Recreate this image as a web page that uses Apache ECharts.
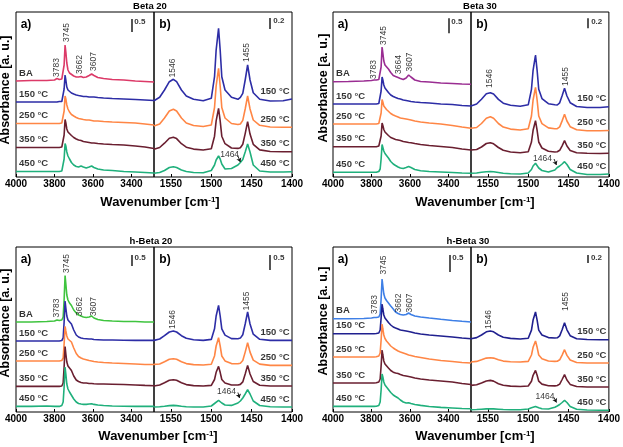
<!DOCTYPE html>
<html><head><meta charset="utf-8">
<script src="https://cdn.jsdelivr.net/npm/echarts@6/dist/echarts.min.js"></script>
<style>html,body{margin:0;padding:0;background:#fff}#c{width:623px;height:447px}</style>
</head><body><div id="c"></div>
<script>
// ---------- DATA ----------
// wavenumber sampling, OH region (a) and pyridine region (b), cm-1
const A_WN = [4000, 3920, 3840, 3800, 3787, 3775, 3762, 3755, 3750, 3745, 3741, 3736, 3730, 3722, 3712, 3700, 3687, 3675, 3662, 3650, 3635, 3620, 3607, 3595, 3575, 3545, 3500, 3440, 3380, 3330, 3283];
const B_WN = [1571, 1564, 1558, 1552, 1547, 1543, 1537, 1531, 1522, 1510, 1500, 1496, 1494, 1491, 1489, 1487, 1483, 1475, 1467, 1464, 1461, 1458, 1455, 1452, 1448, 1440, 1427, 1411, 1400];
const A_TICKS = [4000, 3800, 3600, 3400];
const B_TICKS = [1550, 1500, 1450, 1400];
const CURVE_NAMES = ['BA', '150 °C', '250 °C', '350 °C', '450 °C'];

// stacked absorbance (offset, arbitrary units)
// Beta 20
const beta20_OH_BA  = [96, 96.5, 96.5, 97, 98.5, 97.5, 98, 100, 112, 132, 125, 114, 107, 104, 102.5, 101, 100, 100, 100.5, 99.5, 100, 101.5, 103, 101.5, 99.5, 98.5, 97.5, 97, 96, 95.5, 95];
const beta20_OH_150 = [75, 75, 75, 75, 75, 75.5, 75.5, 77, 88, 102, 97, 90, 87, 85.5, 84, 83, 82, 81.5, 81, 80.5, 80.5, 80, 80, 80, 79.5, 79, 78.5, 78, 77.5, 77, 76.5];
const beta20_OH_250 = [53.5, 53.5, 53.5, 53.5, 53.5, 53.5, 54, 56, 66, 81, 78, 72, 68, 65, 62.5, 61, 59.5, 58.5, 58, 57.5, 57, 57, 56.5, 56, 56, 55.5, 55, 54.5, 54, 53, 52];
const beta20_OH_350 = [29.5, 29.5, 29.5, 29.5, 29.5, 29.5, 30, 32, 42, 57.5, 54, 48, 45, 43, 41.5, 39.5, 38, 37, 36.5, 35.5, 35, 34.5, 34, 34, 33.5, 33, 32.5, 32, 31, 30, 28.5];
const beta20_OH_450 = [5.5, 5.5, 5.5, 5.5, 5.5, 5.5, 6, 8, 18, 33.5, 31, 25, 21, 18, 14.5, 12, 10.5, 10, 11, 10, 9, 10, 11, 9.5, 8, 7, 6.5, 5.5, 5, 4.5, 4];
const beta20_Py_150 = [76.3, 79.7, 87, 95.3, 97.7, 95.3, 87, 81, 77.7, 76.3, 78.7, 100.3, 127, 148.7, 127, 100.3, 87, 79.7, 77.7, 79.7, 83.7, 97, 112, 97, 84.3, 77.7, 76, 76.3, 78];
const beta20_Py_250 = [51, 53, 59, 66, 67.7, 66, 59, 54, 51.5, 50.5, 52, 69.5, 91, 108.7, 91, 69.5, 59, 53.5, 52.5, 53, 56.6, 68, 81, 68, 57, 51.7, 50, 49.7, 49.7];
const beta20_Py_350 = [27.7, 29.5, 33.8, 38.7, 39.7, 38.4, 33.3, 29.8, 27.9, 27, 28.2, 40.8, 56.2, 68.7, 56.2, 40.8, 33.3, 29, 28.6, 29.3, 32.7, 43.4, 55.3, 42.9, 32.7, 27.1, 25.5, 25.3, 25.3];
const beta20_Py_450 = [3.7, 4.5, 6.5, 9.5, 10.3, 9.5, 7, 5.5, 4.5, 4.3, 6.5, 12, 17, 21, 18, 13, 8, 8.5, 12, 14.5, 17.5, 25, 33, 25, 12, 6, 5, 5, 5.3];
// Beta 30
const beta30_OH_BA  = [95.3, 95.5, 96, 96.5, 97, 97, 97.5, 99, 110, 130, 124, 116, 112, 110.5, 108, 104.5, 101.5, 100.5, 99.5, 98.5, 97.5, 99, 102, 100, 97, 95.5, 95, 94, 93.5, 93, 92.7];
const beta30_OH_150 = [73, 73, 73, 73, 73, 73, 73.5, 75, 86, 100, 97, 92, 89, 87, 84.5, 82, 80.5, 79.5, 78.5, 78, 77, 76.5, 76, 75.5, 75, 74.5, 74, 73, 72.5, 71.5, 71];
const beta30_OH_250 = [53, 53, 53, 53, 53, 53, 53.5, 55, 64, 77.5, 75, 71, 69, 67.5, 66, 63.5, 62, 61, 60, 59, 58.5, 58, 57.5, 57, 56, 55, 54, 53, 51.5, 50, 48.7];
const beta30_OH_350 = [30.3, 30.3, 30.3, 30.3, 30.3, 30.3, 31, 32.5, 41, 54, 51.5, 47.5, 45, 43, 41.5, 39.5, 38.5, 37.5, 37, 36.5, 35.5, 35, 34.5, 34.3, 33.5, 32.5, 31.5, 30.5, 29.5, 28, 27];
const beta30_OH_450 = [4.7, 4.7, 4.7, 4.7, 4.7, 4.7, 5.5, 8, 18, 32.5, 30.5, 26, 23.5, 21.5, 19, 15.5, 13, 11.5, 10, 9, 8.5, 9.5, 10.5, 9.5, 7.5, 6.3, 5.5, 5, 4.5, 4, 3.7];
const beta30_Py_150 = [71, 73, 77.8, 83.2, 84.3, 83, 77.6, 73.8, 71.7, 70.7, 72.2, 87.7, 106.7, 122, 106.7, 87.7, 78.4, 73.3, 72.3, 72, 74.2, 81.2, 88.7, 81, 74.3, 70.5, 69.5, 69.5, 70.3];
const beta30_Py_250 = [48.7, 49.5, 53.5, 58.7, 60.3, 58.7, 53.5, 49.9, 47.9, 47, 48.3, 61, 77, 89.7, 77, 61, 53.4, 49.1, 48.3, 48.3, 50.1, 56.1, 62.7, 56, 50.3, 47.2, 46.3, 46.3, 46.5];
const beta30_Py_350 = [27, 27.5, 30, 33.5, 34.3, 33.2, 29.5, 26.7, 25, 24.3, 25.3, 35, 46.7, 56.3, 46.7, 35, 29, 25.8, 25, 25.2, 26.7, 31.2, 36.3, 31, 26.5, 24.3, 23.7, 23.5, 23.7];
const beta30_Py_450 = [3.7, 4, 4.7, 5.3, 5.5, 5.3, 4.5, 3.7, 3.2, 3, 4, 7.5, 11, 13.7, 12, 9, 6.5, 5, 7, 9.5, 11, 13, 15.3, 12.5, 7.5, 4, 2.5, 2.5, 3];
// h-Beta 20
const hbeta20_OH_BA  = [90, 90, 90.5, 91, 92, 91.5, 92, 95, 112, 136.5, 128, 117, 112, 109, 106.5, 102, 99, 97, 96, 95, 94.5, 95, 96, 94, 92.5, 91.5, 91, 90.5, 90.5, 90, 90];
const hbeta20_OH_150 = [71, 71, 71, 71, 71, 71, 71.5, 74, 90, 111, 104, 96, 92, 90, 88, 82, 77, 75, 74, 73.5, 73.3, 73, 73, 72.5, 72.3, 72, 72, 71.8, 71.6, 71.6, 71.6];
const hbeta20_OH_250 = [51, 51, 51, 51, 51, 51, 51.5, 54, 68, 85.5, 81, 76, 73, 71.5, 70, 64, 58.5, 55.5, 54, 53, 52.3, 51.5, 51, 50.5, 50, 49.5, 49, 48.5, 48, 47.5, 47.5];
const hbeta20_OH_350 = [25.6, 25.6, 25.6, 25.6, 25.6, 25.6, 26, 29, 45, 65.5, 58, 50, 46, 44, 41.5, 36, 32, 30.5, 29.5, 29, 29, 28.5, 28.5, 28.3, 28, 28, 27.8, 27.5, 27, 26.6, 26.3];
const hbeta20_OH_450 = [5.6, 5.6, 6, 5.6, 5.6, 5.6, 6.5, 10, 25, 45, 38, 28, 23, 20, 18, 13, 10, 8.5, 8, 7.6, 7.6, 8, 8.3, 7.6, 7, 6.5, 6, 5.8, 5.6, 5.6, 5.6];
const hbeta20_Py_150 = [71.6, 73, 76.3, 80, 81, 80, 76.3, 73.7, 72.3, 71.6, 72.6, 83.2, 96, 106.6, 96, 83.2, 76.9, 73.4, 73.2, 73.9, 77.3, 88, 100, 88, 77.8, 72.7, 71.6, 71.6, 71.6];
const hbeta20_Py_250 = [47.6, 48, 50.2, 52.7, 53.3, 52.7, 50.2, 48.4, 47.4, 47, 47.8, 56, 66, 74.3, 66, 56, 51.1, 48.4, 48.2, 48.8, 51.5, 59.9, 69.3, 59.9, 51.9, 47.9, 46.6, 46.6, 46.6];
const hbeta20_Py_350 = [26, 27, 29.2, 31.7, 32.3, 31.7, 29.2, 27.4, 26.4, 26, 26.6, 32.5, 39.7, 45.6, 39.7, 32.5, 29, 27, 27, 27.6, 30.1, 38, 46.6, 38, 30.5, 26.8, 26, 26, 26];
const hbeta20_Py_450 = [5, 5.3, 5.8, 6.4, 6.6, 6.4, 5.8, 5.3, 5, 5, 6, 8.5, 10.5, 11.6, 10.8, 9, 7, 6.6, 9, 11, 14, 18, 22.3, 18, 11, 6.5, 5.2, 5, 5];
// h-Beta 30
const hbeta30_OH_BA  = [93.3, 93.3, 93.5, 94, 94.5, 94.5, 95, 98, 113, 133, 126, 118, 114, 111.5, 109, 106, 103, 100, 98.5, 97.5, 97, 97.5, 99, 97.5, 96, 95, 94, 92.7, 91.5, 90.7, 90];
const hbeta30_OH_150 = [78.3, 78.3, 78.3, 78.3, 78.3, 78.5, 79, 82, 94, 108, 103, 97, 94, 92, 89.5, 87, 85, 84, 83, 82, 81.5, 81, 80.5, 80, 79, 78, 77, 76, 75, 74, 73.3];
const hbeta30_OH_250 = [55, 55, 55, 55, 55, 55.3, 56, 59, 72, 88, 83, 77, 73.5, 71, 69, 66, 64, 62.5, 61, 60, 59, 58, 57, 56.5, 55.5, 54.5, 53, 51.5, 50.5, 49.5, 49];
const hbeta30_OH_350 = [29, 29, 29, 29, 29, 29.3, 30, 33, 46, 62, 57, 51, 48, 46, 44, 41.5, 39.8, 39, 38.5, 37.5, 36.5, 36, 35.5, 35, 34, 33, 32, 31, 30, 28.5, 27.5];
const hbeta30_OH_450 = [5.6, 5.6, 5.6, 5.6, 5.6, 5.8, 6.5, 10, 22, 38, 35, 30, 27, 25, 22.5, 19.5, 17, 15.5, 14, 12, 10, 9, 9.3, 8.5, 7.5, 6.6, 5.5, 4.6, 4, 3.5, 3.3];
const hbeta30_Py_150 = [73.3, 74.4, 77, 80.2, 81, 80.2, 77, 74.8, 73.6, 73, 73.8, 81.9, 91.9, 100, 91.9, 81.9, 77, 74.4, 74, 74.2, 76.1, 82.2, 89.3, 82.2, 76.3, 73.3, 72.5, 72.3, 72.3];
const hbeta30_Py_250 = [50, 50.6, 52.2, 53.9, 54.3, 53.9, 52.2, 50.9, 50.3, 50, 50.6, 57, 64.7, 71, 64.7, 57, 53.2, 51, 50.6, 50.8, 52.2, 56.9, 62.3, 56.6, 52, 49.5, 49, 49, 49];
const hbeta30_Py_350 = [26.6, 27.3, 29, 31, 31.6, 30.9, 28.3, 26.7, 25.9, 25.5, 26, 30.8, 36.7, 41.6, 36.7, 30.8, 27.9, 26.3, 26.1, 26.5, 27.9, 32.5, 37.3, 32, 27.6, 25.5, 25, 25, 25];
const hbeta30_Py_450 = [2.3, 2.5, 2.8, 3.1, 3.2, 3.1, 2.8, 2.5, 2.3, 2.3, 3, 4.2, 5.1, 5.6, 5.2, 4.3, 3.2, 3, 4.8, 6, 7.5, 9.5, 11.6, 9.5, 5.5, 2.8, 2, 1.8, 1.8];

// ---------- LAYOUT / STYLE ----------
const FONT = '"Liberation Sans", Arial, Helvetica, sans-serif';
const PW = 138, PH = 165;
const A_MIN = 3283, A_MAX = 4000, B_MIN = 1400, B_MAX = 1571;
const COMMON = ['#2d2da6', '#ff8645', '#6a1f30', '#20b07c'];

const panels = [
  { title: 'Beta 20', left: 16, top: 12, titleX: 150, yTitle: [5.5, 90], xTitle: [160, 202],
    colors: ['#dc3a68'].concat(COMMON),
    oh: [beta20_OH_BA, beta20_OH_150, beta20_OH_250, beta20_OH_350, beta20_OH_450],
    py: [beta20_Py_150, beta20_Py_250, beta20_Py_350, beta20_Py_450],
    peaksA: [['3783', 3787, 100], ['3745', 3739, 135], ['3662', 3671, 103], ['3607', 3597, 106]],
    peaksB: [['1546', 1547.5, 99.5], ['1455', 1456, 115]],
    note: [1489, 22], arrow: [[1467, 21], [1464, 15]],
    scaleA: [3401, 145, 158, '0.5'], scaleB: [1427, 148, 159, '0.2'] },
  { title: 'Beta 30', left: 333, top: 12, titleX: 480, yTitle: [323.5, 88], xTitle: [475, 202],
    colors: ['#9a2d92'].concat(COMMON),
    oh: [beta30_OH_BA, beta30_OH_150, beta30_OH_250, beta30_OH_350, beta30_OH_450],
    py: [beta30_Py_150, beta30_Py_250, beta30_Py_350, beta30_Py_450],
    peaksA: [['3783', 3788, 98], ['3745', 3737, 132], ['3664', 3661, 103], ['3607', 3601, 105.5]],
    peaksB: [['1546', 1548, 89], ['1455', 1454, 91]],
    note: [1494, 18.3], arrow: [[1468, 18], [1465, 12]],
    scaleA: [3401, 143.7, 158.7, '0.5'], scaleB: [1425.7, 148.7, 158.7, '0.2'] },
  { title: 'h-Beta 20', left: 16, top: 247, titleX: 151, yTitle: [5.5, 323], xTitle: [158, 436.5],
    colors: ['#3fc43f'].concat(COMMON),
    oh: [hbeta20_OH_BA, hbeta20_OH_150, hbeta20_OH_250, hbeta20_OH_350, hbeta20_OH_450],
    py: [hbeta20_Py_150, hbeta20_Py_250, hbeta20_Py_350, hbeta20_Py_450],
    peaksA: [['3783', 3787, 94.5], ['3745', 3735, 139], ['3662', 3670, 96], ['3607', 3597, 96]],
    peaksB: [['1546', 1547.5, 83], ['1455', 1456, 101.5]],
    note: [1493, 20], arrow: [[1467, 19.5], [1465, 14]],
    scaleA: [3400, 146, 157, '0.5'], scaleB: [1427, 142, 157, '0.5'] },
  { title: 'h-Beta 30', left: 333, top: 247, titleX: 468, yTitle: [323.5, 321], xTitle: [475, 436.5],
    colors: ['#3e7fe6', '#20208f', '#ff8645', '#6a1f30', '#20b07c'],
    oh: [hbeta30_OH_BA, hbeta30_OH_150, hbeta30_OH_250, hbeta30_OH_350, hbeta30_OH_450],
    py: [hbeta30_Py_150, hbeta30_Py_250, hbeta30_Py_350, hbeta30_Py_450],
    peaksA: [['3783', 3785, 98], ['3745', 3737, 137.5], ['3662', 3661, 99.5], ['3607', 3601, 99.5]],
    peaksB: [['1546', 1549, 83], ['1455', 1454, 101]],
    note: [1491, 15], arrow: [[1468, 14.5], [1465, 9.5]],
    scaleA: [3396, 140, 157, '0.5'], scaleB: [1426, 149, 157, '0.2'] }
];

function txt(wn, h, text, o) {
  return { value: [wn, h], label: Object.assign({
    show: true, position: 'inside', formatter: text, color: '#000', fontFamily: FONT,
    fontSize: 9.5, fontWeight: 'bold', align: 'left', verticalAlign: 'bottom' }, o || {}) };
}
function peakTxt(p) { return txt(p[1], p[2], p[0], { rotate: 90, align: 'left', verticalAlign: 'middle', fontSize: 8.5, fontWeight: 'normal', color: '#000' }); }

const grid = [], xAxis = [], yAxis = [], series = [], graphic = [];
panels.forEach((p, pi) => {
  [0, 1].forEach(s => {
    const gi = pi * 2 + s;
    const ticks = s === 0 ? A_TICKS : B_TICKS;
    grid.push({ left: p.left + s * PW, top: p.top, width: PW, height: PH, show: true, borderColor: '#000', borderWidth: 1, backgroundColor: 'transparent', containLabel: false });
    xAxis.push({ gridIndex: gi, type: 'value', inverse: true,
      min: s === 0 ? A_MIN : B_MIN, max: s === 0 ? A_MAX : B_MAX,
      axisLine: { show: false }, splitLine: { show: false },
      axisTick: { show: true, inside: true, length: 3, customValues: ticks, lineStyle: { color: '#000', width: 1 } },
      axisLabel: { customValues: ticks, formatter: v => String(v), color: '#000', fontSize: 10, fontWeight: 'bold', fontFamily: FONT, margin: 2, hideOverlap: false } });
    yAxis.push({ gridIndex: gi, type: 'value', min: 0, max: PH, show: false });
  });
  const ga = pi * 2, gb = pi * 2 + 1;
  // spectra (a) OH region
  p.oh.forEach((vals, k) => {
    series.push({ type: 'line', xAxisIndex: ga, yAxisIndex: ga, data: A_WN.map((w, i) => [w, vals[i]]),
      symbol: 'none', silent: true, lineStyle: { width: 1.6, color: p.colors[k] }, itemStyle: { color: p.colors[k] }, z: 3 });
  });
  // spectra (b) pyridine region
  p.py.forEach((vals, k) => {
    series.push({ type: 'line', xAxisIndex: gb, yAxisIndex: gb, data: B_WN.map((w, i) => [w, vals[i]]),
      symbol: 'none', silent: true, lineStyle: { width: 1.6, color: p.colors[k + 1] }, itemStyle: { color: p.colors[k + 1] }, z: 3 });
  });
  // annotations a
  const annA = p.oh.map((vals, k) => txt(3984, vals[0] + 3, CURVE_NAMES[k]));
  p.peaksA.forEach(pk => annA.push(peakTxt(pk)));
  annA.push(txt(p.scaleA[0], p.scaleA[2], p.scaleA[3], { verticalAlign: 'top', fontSize: 8, offset: [3, -1] }));
  series.push({ type: 'scatter', xAxisIndex: ga, yAxisIndex: ga, symbolSize: 1, itemStyle: { color: 'rgba(0,0,0,0)' }, silent: true, z: 5, data: annA,
    markLine: { silent: true, animation: false, symbol: ['none', 'none'], label: { show: false }, lineStyle: { type: 'solid', color: '#555', width: 2 },
      data: [[{ coord: [p.scaleA[0], p.scaleA[1]] }, { coord: [p.scaleA[0], p.scaleA[2]] }]] } });
  // annotations b
  const annB = p.py.map((vals, k) => txt(1403, vals[vals.length - 1] + 3, CURVE_NAMES[k + 1], { align: 'right' }));
  p.peaksB.forEach(pk => annB.push(peakTxt(pk)));
  annB.push(txt(p.note[0], p.note[1], '1464', { verticalAlign: 'middle', fontSize: 8.5, fontWeight: 'normal', color: '#000' }));
  annB.push(txt(p.scaleB[0], p.scaleB[2], p.scaleB[3], { verticalAlign: 'top', fontSize: 8, offset: [3, -1] }));
  series.push({ type: 'scatter', xAxisIndex: gb, yAxisIndex: gb, symbolSize: 1, itemStyle: { color: 'rgba(0,0,0,0)' }, silent: true, z: 5, data: annB,
    markLine: { silent: true, animation: false, symbol: ['none', 'none'], label: { show: false }, lineStyle: { type: 'solid', color: '#555', width: 2 },
      data: [
        [{ coord: [p.scaleB[0], p.scaleB[1]] }, { coord: [p.scaleB[0], p.scaleB[2]] }],
        [{ coord: p.arrow[0], lineStyle: { color: '#111', width: 0.9 } }, { coord: p.arrow[1], symbol: 'arrow', symbolSize: 4 }]
      ] } });
  // titles and axis names
  graphic.push({ type: 'text', x: p.titleX, y: p.top - 6, silent: true,
    style: { text: p.title, font: 'bold 9.5px ' + FONT, fill: '#000', align: 'center', verticalAlign: 'middle' } });
  graphic.push({ type: 'text', x: p.left + 4.7, y: p.top + 13, silent: true,
    style: { text: 'a)', font: 'bold 12px ' + FONT, fill: '#000', align: 'left', verticalAlign: 'middle' } });
  graphic.push({ type: 'text', x: p.left + PW + 5.3, y: p.top + 13, silent: true,
    style: { text: 'b)', font: 'bold 12px ' + FONT, fill: '#000', align: 'left', verticalAlign: 'middle' } });
  graphic.push({ type: 'text', x: p.yTitle[0], y: p.yTitle[1], rotation: Math.PI / 2, silent: true,
    style: { text: 'Absorbance [a. u.]', font: 'bold 12.5px ' + FONT, fill: '#000', align: 'center', verticalAlign: 'middle' } });
  graphic.push({ type: 'text', x: p.xTitle[0], y: p.xTitle[1], silent: true,
    style: { text: '{m|Wavenumber [cm}{s|-1}{m|]}', align: 'center', verticalAlign: 'middle', fill: '#000',
      rich: { m: { font: 'bold 13px ' + FONT, fill: '#000' }, s: { font: 'bold 8px ' + FONT, fill: '#000', verticalAlign: 'top' } } } });
});

const chart = echarts.init(document.getElementById('c'), null, { renderer: 'canvas' });
chart.setOption({ animation: false, backgroundColor: '#fff', grid, xAxis, yAxis, series, graphic });
</script>
</body></html>
